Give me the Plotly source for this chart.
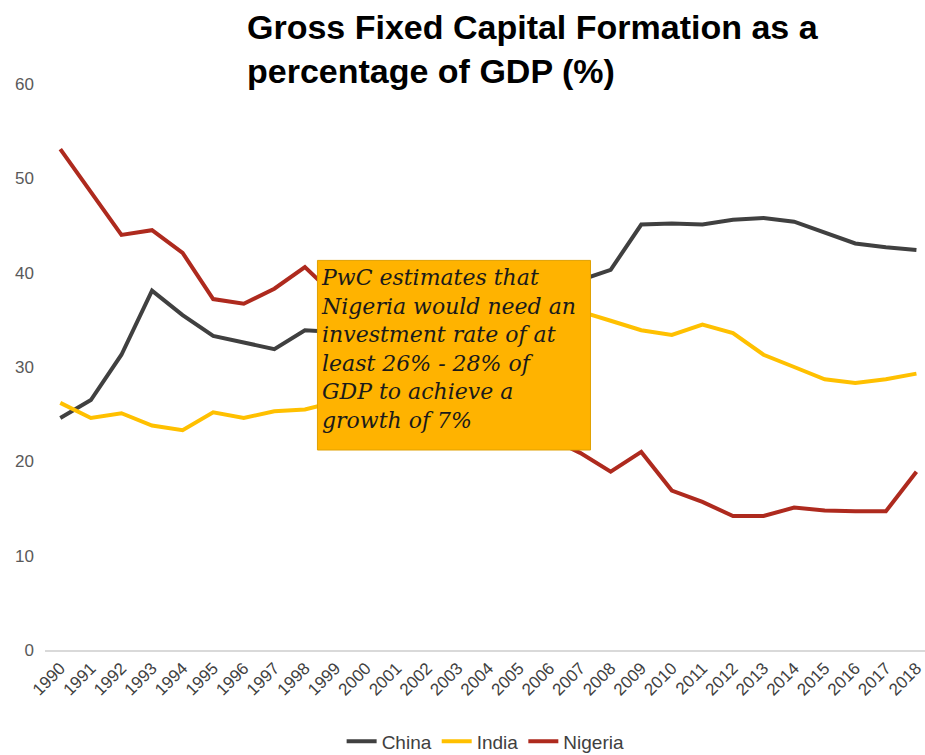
import plotly.graph_objects as go

# Gross fixed capital formation, % of GDP
years = list(range(1990, 2019))
tick_labels = [str(y) for y in years]

china = [24.6, 26.5, 31.3, 38.1, 35.5, 33.3, 32.6, 31.9, 33.9, 33.7,
         34.0, 34.5, 35.8, 38.5, 40.0, 39.5, 38.8, 39.2, 40.3, 45.1,
         45.2, 45.1, 45.6, 45.8, 45.4, 44.2, 43.1, 42.7, 42.4]
india = [26.2, 24.6, 25.1, 23.8, 23.3, 25.2, 24.6, 25.3, 25.5, 26.3,
         24.2, 25.8, 25.2, 26.1, 30.0, 31.5, 33.5, 35.9, 34.9, 33.9,
         33.4, 34.5, 33.6, 31.3, 30.0, 28.7, 28.3, 28.7, 29.3]
nigeria = [53.1, 48.6, 44.0, 44.5, 42.1, 37.2, 36.7, 38.3, 40.6, 37.5,
           35.0, 33.0, 30.0, 28.0, 26.0, 24.0, 22.5, 20.9, 18.9, 21.0,
           16.9, 15.7, 14.2, 14.2, 15.1, 14.8, 14.7, 14.7, 18.9]

series = [("China", china, "#404040"),
          ("India", india, "#FFC000"),
          ("Nigeria", nigeria, "#AE2A1E")]

title_lines = ["Gross Fixed Capital Formation as a",
               "percentage of GDP (%)"]

note_lines = ["PwC estimates that",
              "Nigeria would need an",
              "investment rate of at",
              "least 26% - 28% of",
              "GDP to achieve a",
              "growth of 7%"]

fig = go.Figure()
for name, vals, color in series:
    fig.add_trace(go.Scatter(
        x=years, y=vals, name=name, mode="lines",
        line=dict(color=color, width=4),
        hoverinfo="x+y+name",
    ))

# callout box with the investment note
fig.add_shape(type="rect", xref="x", yref="y",
              x0=1998.41, x1=2007.34, y0=21.2, y1=41.3,
              fillcolor="#FFB300", line=dict(color="#E0A000", width=1),
              layer="above")
fig.add_annotation(xref="x", yref="y", x=1998.45, y=41.0,
                   xanchor="left", yanchor="top", align="left",
                   showarrow=False,
                   text="<br>".join(note_lines),
                   font=dict(family="DejaVu Serif", size=22, color="#1a1a1a",
                             style="italic"))

# chart title, two lines, left-aligned above the plot
fig.add_annotation(xref="paper", yref="paper", x=200 / 880, y=1 + 78 / 566,
                   xanchor="left", yanchor="top", align="left",
                   showarrow=False,
                   text="<br>".join(title_lines),
                   font=dict(family="Liberation Sans", size=34, color="#000000",
                             weight="bold"))

fig.update_layout(
    width=925, height=755,
    margin=dict(l=45, r=0, t=84, b=105),
    paper_bgcolor="white", plot_bgcolor="white",
    showlegend=True,
    legend=dict(orientation="h", xref="container", yref="container",
                x=0.525, xanchor="center", y=0.018, yanchor="middle",
                font=dict(family="Liberation Sans", size=19, color="#404040"),
                itemwidth=30, tracegroupgap=0),
    font=dict(family="Liberation Sans"),
)
fig.update_xaxes(
    range=[1989.5, 2018.28], tickvals=years, ticktext=tick_labels,
    tickangle=-45, showgrid=False, zeroline=False,
    showline=True, linecolor="#D9D9D9", linewidth=1.5,
    ticks="", tickfont=dict(size=17, color="#404040"),
    ticklabeloverflow="allow",
)
fig.update_yaxes(
    range=[0, 60], tickvals=[0, 10, 20, 30, 40, 50, 60],
    showgrid=False, zeroline=False, showline=False, ticks="",
    ticklabelstandoff=10,
    tickfont=dict(size=17, color="#595959"),
)

fig.write_html("out.html")
